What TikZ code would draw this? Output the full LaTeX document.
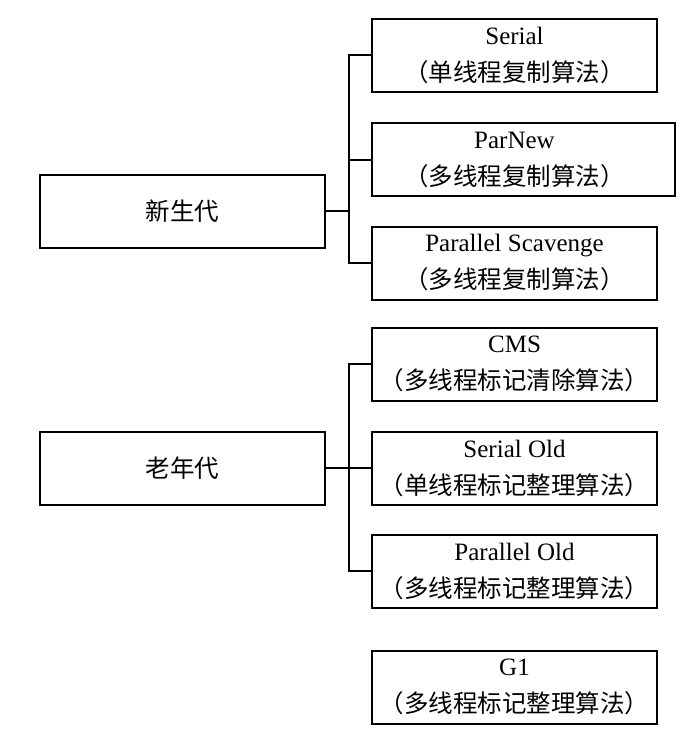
\documentclass[tikz,border=0pt]{standalone}
\usepackage{fontspec}
\setmainfont{Liberation Serif}
\newfontfamily\cjk{Noto Sans CJK SC}
\newcommand{\zh}[1]{{\cjk\fontsize{24.5}{37}\selectfont #1}}
\begin{document}
\begin{tikzpicture}[x=1pt,y=-1pt,
  box/.style={draw=black, line width=2pt, rectangle, inner sep=0pt,
    minimum width=285pt, minimum height=73pt, align=center,
    font=\fontsize{25}{37}\selectfont},
  plain/.style={inner sep=0pt, align=center, font=\fontsize{25}{37}\selectfont},
  link/.style={draw=black, line width=2pt}]
\useasboundingbox (0,0) rectangle (683,743);

% generations
\node[box] (young) at (182.5,211.5) {\zh{新生代}};
\node[box] (old)   at (182.5,468)   {\zh{老年代}};

% young-generation collectors
\node[box] (serial) at (514.5,55.5) {Serial\\\zh{（单线程复制算法）}};
\node[box, minimum width=303pt] (parnew) at (523.5,160) {};
\node[plain] (parnewtext) at (514.5,160) {ParNew\\\zh{（多线程复制算法）}};
\node[box] (ps) at (514.5,263) {Parallel Scavenge\\\zh{（多线程复制算法）}};

% old-generation collectors
\node[box] (cms)  at (514.5,364) {CMS\\\zh{（多线程标记清除算法）}};
\node[box] (sold) at (514.5,468) {Serial Old\\\zh{（单线程标记整理算法）}};
\node[box] (pold) at (514.5,571) {Parallel Old\\\zh{（多线程标记整理算法）}};

% whole-heap collector
\node[box] (gone) at (514.5,687) {G1\\\zh{（多线程标记整理算法）}};

% young-generation bracket
\coordinate (yj) at (349,211.5);
\draw[link] (young.east) -- (yj);
\draw[link] (serial.west) -| (yj) |- (ps.west);
\draw[link] (yj |- parnew.west) -- (parnew.west);

% old-generation bracket
\coordinate (oj) at (349,468);
\draw[link] (old.east) -- (oj);
\draw[link] (cms.west) -| (oj) |- (pold.west);
\draw[link] (oj) -- (sold.west);
\end{tikzpicture}
\end{document}
